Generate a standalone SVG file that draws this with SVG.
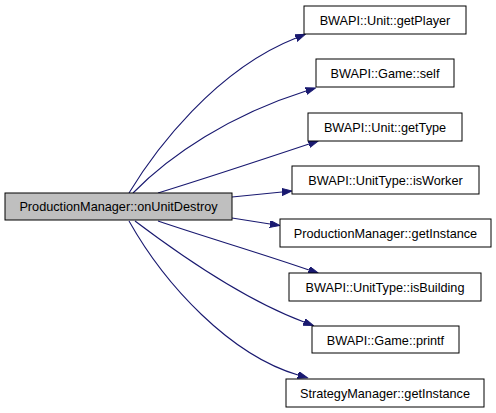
<svg xmlns="http://www.w3.org/2000/svg" width="496" height="413" viewBox="0 0 496 413">
<style>
.box{fill:#ffffff;stroke:#000000;stroke-width:1}
.main{fill:#bfbfbf;stroke:#000000;stroke-width:1}
.lbl{font-family:"Liberation Sans",Arial,sans-serif;font-size:12.7px;fill:#000000;text-anchor:middle}
.edge{fill:none;stroke:#191970;stroke-width:1.1;marker-end:url(#arr)}
</style>
<defs>
<marker id="arr" markerUnits="userSpaceOnUse" markerWidth="11" markerHeight="8" refX="0" refY="3.5" orient="auto">
<path d="M0,0 L10,3.5 L0,7 z" fill="#191970" stroke="#191970" stroke-width="1"/>
</marker>
</defs>
<rect width="496" height="413" fill="#ffffff"/>
<g id="connectors">
<path class="edge" d="M129,193 C155,150 215,70 296,38"/>
<path class="edge" d="M133,193 C170,155 230,115 306,91"/>
<path class="edge" d="M158,193 C200,180 255,162 309,144"/>
<path class="edge" d="M232,197 L282,192"/>
<path class="edge" d="M232,218 L270,224"/>
<path class="edge" d="M158,221 C205,237 260,253 309,270"/>
<path class="edge" d="M135,221 C180,255 245,300 304,322"/>
<path class="edge" d="M129,221 C165,285 230,355 298,375"/>
</g>
<g id="n0"><rect class="main" x="5" y="193" width="227" height="27"/><text class="lbl" x="118.5" y="211">ProductionManager::onUnitDestroy</text></g>
<g id="n1"><rect class="box" x="304" y="6" width="162" height="28"/><text class="lbl" x="385" y="24.5">BWAPI::Unit::getPlayer</text></g>
<g id="n2"><rect class="box" x="316" y="59" width="138" height="28"/><text class="lbl" x="385" y="77.5">BWAPI::Game::self</text></g>
<g id="n3"><rect class="box" x="308" y="113" width="154" height="28"/><text class="lbl" x="385" y="131.5">BWAPI::Unit::getType</text></g>
<g id="n4"><rect class="box" x="292" y="166" width="187" height="28"/><text class="lbl" x="385.5" y="184.5">BWAPI::UnitType::isWorker</text></g>
<g id="n5"><rect class="box" x="280" y="219" width="211" height="28"/><text class="lbl" x="385.5" y="237.5">ProductionManager::getInstance</text></g>
<g id="n6"><rect class="box" x="289" y="273" width="192" height="28"/><text class="lbl" x="385" y="291.5">BWAPI::UnitType::isBuilding</text></g>
<g id="n7"><rect class="box" x="312" y="326" width="147" height="27"/><text class="lbl" x="385.5" y="344.5">BWAPI::Game::printf</text></g>
<g id="n8"><rect class="box" x="286" y="379" width="198" height="28"/><text class="lbl" x="385" y="397.5">StrategyManager::getInstance</text></g>
</svg>
